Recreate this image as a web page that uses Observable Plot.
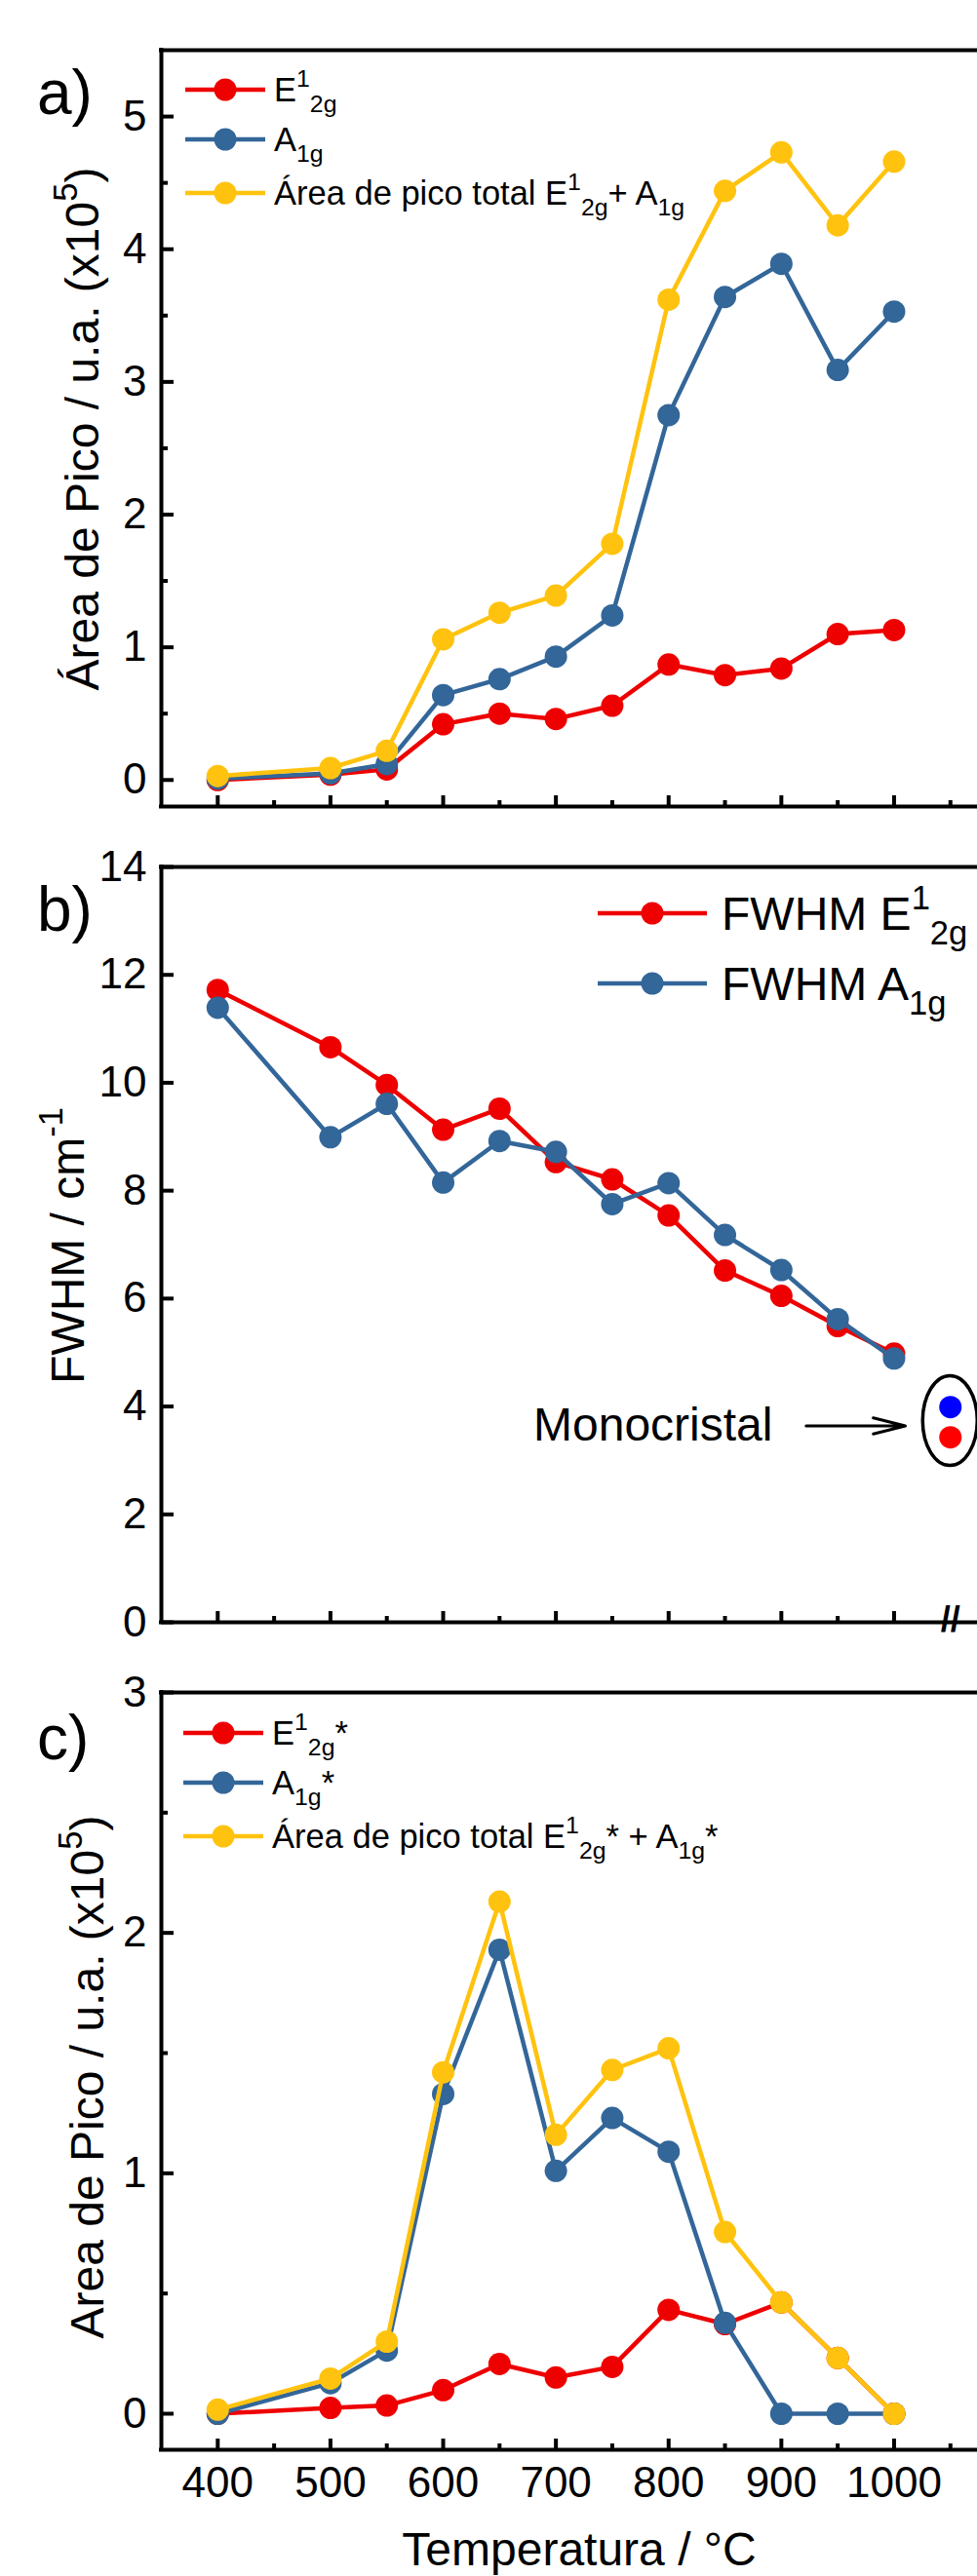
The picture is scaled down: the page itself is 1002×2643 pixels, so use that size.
<!DOCTYPE html>
<html>
<head>
<meta charset="utf-8">
<script src="https://cdn.jsdelivr.net/npm/d3@7"></script>
<script src="https://cdn.jsdelivr.net/npm/@observablehq/plot@0.6"></script>
<style>
  html, body { margin: 0; padding: 0; background: #ffffff; }
  #wrap { position: relative; width: 1002px; height: 2643px; overflow: hidden; background: #ffffff; }
  #wrap svg { position: absolute; left: 0; }
  text { white-space: pre; }
</style>
</head>
<body>
<div id="wrap"></div>
<script>
// ---------------- DATA ----------------
const temperatures = [400, 500, 550, 600, 650, 700, 750, 800, 850, 900, 950, 1000];

// a) peak area (x10^5)
const areaE2g   = [0.00, 0.04, 0.08, 0.42, 0.50, 0.46, 0.56, 0.87, 0.79, 0.84, 1.10, 1.13];
const areaA1g   = [0.01, 0.05, 0.12, 0.64, 0.76, 0.93, 1.24, 2.75, 3.64, 3.89, 3.09, 3.53];
const areaTotal = [0.03, 0.09, 0.22, 1.06, 1.26, 1.39, 1.78, 3.62, 4.44, 4.73, 4.18, 4.66];

// b) FWHM (cm^-1)
const fwhmE2g = [11.72, 10.66, 9.96, 9.13, 9.52, 8.53, 8.21, 7.54, 6.52, 6.05, 5.49, 4.98];
const fwhmA1g = [11.39, 8.99, 9.61, 8.15, 8.92, 8.72, 7.75, 8.14, 7.18, 6.53, 5.62, 4.89];

// Monocristal reference points (plotted after the axis break)
const monoT      = [1050, 1050];
const monoValues = [3.99, 3.43];
const monoColors = ["#0000ff", "#ff0000"];
const monoEllipse = {T: 1050, value: 3.73};
const monoLabel = "Monocristal";
const monoLabelAt = {T: 680, value: 3.64};
const monoArrow = {from: 922, to: 1010, value: 3.64};
const breakAt = 1050;

// c) peak area of starred modes (x10^5)
const starE2g   = [0.00, 0.024, 0.034, 0.098, 0.207, 0.151, 0.195, 0.432, 0.373, 0.463, 0.232, 0.00];
const starA1g   = [0.00, 0.127, 0.263, 1.33, 1.93, 1.01, 1.23, 1.09, 0.378, 0.00, 0.00, 0.00];
const starTotal = [0.017, 0.146, 0.30, 1.42, 2.13, 1.16, 1.43, 1.52, 0.756, 0.463, 0.232, 0.00];

// ticks
const xMajorTicks = [400, 500, 600, 700, 800, 900, 1000];
const xMinorTicks = [450, 550, 650, 750, 850, 950, 1050];
const xMinorTicksB = [450, 550, 650, 750, 850, 950];
const yTicksA = [0, 1, 2, 3, 4, 5];
const yMinorA = [0.5, 1.5, 2.5, 3.5, 4.5];
const yTicksB = [0, 2, 4, 6, 8, 10, 12, 14];
const yTicksC = [0, 1, 2, 3];
const yMinorC = [0.5, 1.5, 2.5];

// colours
const RED = "#ee0000", BLUE = "#336699", YELLOW = "#ffc30f";
const FONT = "'Liberation Sans', Arial, Helvetica, sans-serif";

// ---------------- HELPERS ----------------
const wrap = document.getElementById("wrap");

function toRows(values) { return temperatures.map((t, i) => ({T: t, v: values[i]})); }

function seriesMarks(values, color) {
  const rows = toRows(values);
  return [
    Plot.line(rows, {x: "T", y: "v", stroke: color, strokeWidth: 4.5}),
    Plot.dot(rows, {x: "T", y: "v", r: 11.5, fill: color, stroke: "none"})
  ];
}

function frameMarks(cfg, innerH, innerW) {
  return [
    Plot.ruleX([cfg.xDomain[0]], {y1: cfg.yDomain[0], y2: cfg.yDomain[1], strokeWidth: 4, strokeLinecap: "square"}),
    Plot.ruleY([cfg.yDomain[0]], {strokeWidth: 4, strokeLinecap: "square"}),
    Plot.ruleY([cfg.yDomain[1]], {strokeWidth: 4, strokeLinecap: "square"}),
    Plot.tickX(xMajorTicks, {x: d => d, insetTop: innerH - 11, strokeWidth: 4}),
    Plot.tickX(cfg.xMinor, {x: d => d, insetTop: innerH - 6, strokeWidth: 4}),
    Plot.tickY(cfg.yTicks, {y: d => d, insetRight: innerW - 13, strokeWidth: 4}),
    Plot.tickY(cfg.yMinor || [], {y: d => d, insetRight: innerW - 7, strokeWidth: 4})
  ];
}

function makePanel(cfg) {
  const innerH = cfg.height - cfg.mt - cfg.mb;
  const innerW = 1002 - 165;
  const svg = Plot.plot({
    width: 1002,
    height: cfg.height,
    marginTop: cfg.mt,
    marginBottom: cfg.mb,
    marginLeft: 165,
    marginRight: 0,
    style: {fontFamily: FONT, fontSize: "44px", color: "#000", background: "transparent", overflow: "visible"},
    x: {domain: cfg.xDomain, axis: cfg.showX ? "bottom" : null, ticks: xMajorTicks, tickSize: 0, tickPadding: 17,
        tickFormat: d => String(d), label: null},
    y: {domain: cfg.yDomain, ticks: cfg.yTicks, tickSize: 0, tickPadding: 15, tickFormat: d => String(d), label: null},
    marks: [
      ...frameMarks(cfg, innerH, innerW),
      ...cfg.marks
    ]
  });
  svg.style.top = cfg.top + "px";
  wrap.appendChild(svg);
  return svg;
}

// rich text with superscripts/subscripts
function rich(sel, parts, f) {
  let off = 0;
  for (const p of parts) {
    let target = 0, size = f, s = p;
    if (typeof p === "object") {
      if (p.sup !== undefined) { target = -0.45 * f; s = p.sup; size = 0.72 * f; }
      else { target = 0.30 * f; s = p.sub; size = 0.72 * f; }
    }
    sel.append("tspan").attr("dy", target - off).attr("font-size", size).text(s);
    off = target;
  }
}

function legend(svg, items, top, geom) {
  const g = d3.select(svg).append("g").attr("font-family", FONT).attr("text-anchor", "start");
  items.forEach((it, i) => {
    const y = geom.rows[i] - top;
    g.append("line").attr("x1", geom.x1).attr("x2", geom.x2).attr("y1", y).attr("y2", y)
      .attr("stroke", it.color).attr("stroke-width", 4.5);
    g.append("circle").attr("cx", (geom.x1 + geom.x2) / 2).attr("cy", y).attr("r", 11.5).attr("fill", it.color);
    const t = g.append("text").attr("x", geom.tx).attr("y", y + 0.358 * geom.f).attr("font-size", geom.f)
      .attr("fill", "#000").attr("text-anchor", "start");
    rich(t, it.parts, geom.f);
  });
}

function yTitle(svg, parts, x, yCenter, top, f) {
  const t = d3.select(svg).append("text")
    .attr("font-family", FONT).attr("font-size", f).attr("fill", "#000")
    .attr("text-anchor", "middle")
    .attr("transform", `translate(${x},${yCenter - top}) rotate(-90)`);
  rich(t, parts, f);
}

function panelLabel(svg, txt, x, baseline, top) {
  d3.select(svg).append("text").attr("font-family", FONT).attr("font-size", 64).attr("fill", "#000")
    .attr("text-anchor", "start")
    .attr("x", x).attr("y", baseline - top).text(txt);
}

// ---------------- PANEL A ----------------
const XDOM = [350, 1074];
const svgA = makePanel({
  top: 0, height: 860, mt: 51, mb: 33,
  xDomain: XDOM, yDomain: [-0.2, 5.5], yTicks: yTicksA, yMinor: yMinorA, xMinor: xMinorTicks, showX: false,
  marks: [...seriesMarks(areaE2g, RED), ...seriesMarks(areaA1g, BLUE), ...seriesMarks(areaTotal, YELLOW)]
});
legend(svgA, [
  {color: RED, parts: ["E", {sup: "1"}, {sub: "2g"}]},
  {color: BLUE, parts: ["A", {sub: "1g"}]},
  {color: YELLOW, parts: ["Área de pico total E", {sup: "1"}, {sub: "2g"}, "+ A", {sub: "1g"}]}
], 0, {rows: [92, 143, 198], x1: 190, x2: 272, tx: 281, f: 34.5});
yTitle(svgA, ["Área de Pico / u.a. (x10", {sup: "5"}, ")"], 101, 440, 0, 48);
panelLabel(svgA, "a)", 38, 117, 0);

// ---------------- PANEL B ----------------
const monoRows = monoT.map((t, i) => ({T: t, v: monoValues[i], c: monoColors[i]}));
const svgB = makePanel({
  top: 840, height: 860, mt: 49, mb: 36,
  xDomain: XDOM, yDomain: [0, 14], yTicks: yTicksB, xMinor: xMinorTicksB, showX: false,
  marks: [
    ...seriesMarks(fwhmE2g, RED), ...seriesMarks(fwhmA1g, BLUE),
    Plot.dot(monoRows, {x: "T", y: "v", r: 11.5, fill: "c", stroke: "none"}),
    Plot.text([monoLabel], {x: monoLabelAt.T, y: monoLabelAt.value, text: d => d, textAnchor: "start",
      fontSize: 48, fill: "#000", lineAnchor: "middle"}),
    Plot.arrow([monoArrow], {x1: "from", x2: "to", y1: "value", y2: "value", stroke: "#000",
      strokeWidth: 3, headLength: 22, headAngle: 28}),
    Plot.text(["//"], {x: breakAt, y: 0, text: d => d, fontSize: 36, fontWeight: "bold", fill: "#000",
      lineAnchor: "middle", dy: -2})
  ]
});
{
  const sx = svgB.scale("x"), sy = svgB.scale("y");
  d3.select(svgB).append("ellipse")
    .attr("cx", sx.apply(monoEllipse.T)).attr("cy", sy.apply(monoEllipse.value))
    .attr("rx", 28).attr("ry", 46)
    .attr("fill", "none").attr("stroke", "#000").attr("stroke-width", 3.5);
}
legend(svgB, [
  {color: RED, parts: ["FWHM E", {sup: "1"}, {sub: "2g"}]},
  {color: BLUE, parts: ["FWHM A", {sub: "1g"}]}
], 840, {rows: [937, 1009], x1: 613, x2: 725, tx: 740, f: 48});
yTitle(svgB, ["FWHM / cm", {sup: "-1"}], 86, 1278, 840, 48);
panelLabel(svgB, "b)", 38, 955, 840);

// ---------------- PANEL C ----------------
const svgC = makePanel({
  top: 1700, height: 943, mt: 36, mb: 130,
  xDomain: XDOM, yDomain: [-0.15, 3], yTicks: yTicksC, yMinor: yMinorC, xMinor: xMinorTicks, showX: true,
  marks: [...seriesMarks(starE2g, RED), ...seriesMarks(starA1g, BLUE), ...seriesMarks(starTotal, YELLOW)]
});
legend(svgC, [
  {color: RED, parts: ["E", {sup: "1"}, {sub: "2g"}, "*"]},
  {color: BLUE, parts: ["A", {sub: "1g"}, "*"]},
  {color: YELLOW, parts: ["Área de pico total E", {sup: "1"}, {sub: "2g"}, "* + A", {sub: "1g"}, "*"]}
], 1700, {rows: [1778, 1829, 1884], x1: 188, x2: 270, tx: 279, f: 34.5});
yTitle(svgC, ["Area de Pico / u.a. (x10", {sup: "5"}, ")"], 106, 2131, 1700, 48);
panelLabel(svgC, "c)", 38, 1805, 1700);
d3.select(svgC).append("text").attr("font-family", FONT).attr("font-size", 48).attr("fill", "#000")
  .attr("text-anchor", "middle").attr("x", 594).attr("y", 2632 - 1700).text("Temperatura / °C");
</script>
</body>
</html>
